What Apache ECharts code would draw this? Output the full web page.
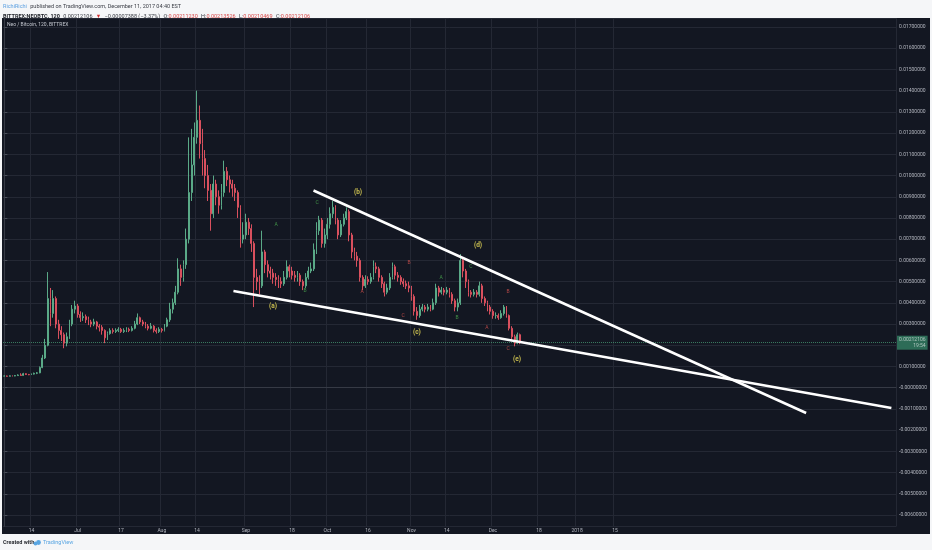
<!DOCTYPE html>
<html><head><meta charset="utf-8">
<script src="https://cdn.jsdelivr.net/npm/echarts@6/dist/echarts.min.js"></script>
<style>
html,body{margin:0;padding:0;background:#f5f6f8;}
#pane{position:absolute;left:2px;top:18px;width:928px;height:516px;background:#131722;}
#c{position:absolute;left:0;top:0;width:932px;height:550px;}
</style></head><body>
<div id="pane"></div><div id="c"></div>
<script>
// ---- data (NEO/BTC, daily approximation of the 120-min chart) ----
const START_DATE = '2017-06-04';
const DAY_COUNT = 329; // visible time range through late April 2018
const closes = [
0.00055,0.00054,0.00056,0.00055,0.00057,0.00060,0.00058,0.00066,0.00062,0.00061,
0.00064,0.00068,0.00070,0.00095,0.00140,0.00200,0.00420,0.00350,0.00420,0.00300,
0.00270,0.00250,0.00210,0.00240,0.00300,0.00370,0.00385,0.00345,0.00330,0.00335,
0.00320,0.00310,0.00300,0.00310,0.00290,0.00285,0.00270,0.00235,0.00255,0.00270,
0.00265,0.00270,0.00275,0.00265,0.00270,0.00275,0.00270,0.00280,0.00300,0.00330,
0.00310,0.00300,0.00290,0.00280,0.00290,0.00270,0.00265,0.00275,0.00270,0.00290,
0.00320,0.00370,0.00400,0.00450,0.00560,0.00520,0.00580,0.00700,0.00920,0.01050,
0.01180,0.01260,0.01150,0.01080,0.01000,0.00930,0.00820,0.00960,0.00900,0.00860,
0.00920,0.01020,0.00980,0.00960,0.00940,0.00920,0.00850,0.00700,0.00720,0.00780,
0.00750,0.00680,0.00520,0.00500,0.00480,0.00640,0.00580,0.00550,0.00540,0.00520,
0.00510,0.00500,0.00490,0.00520,0.00570,0.00550,0.00530,0.00520,0.00530,0.00500,
0.00480,0.00520,0.00550,0.00560,0.00650,0.00740,0.00790,0.00680,0.00720,0.00770,
0.00820,0.00850,0.00790,0.00720,0.00770,0.00800,0.00830,0.00720,0.00640,0.00620,
0.00600,0.00520,0.00480,0.00510,0.00500,0.00520,0.00570,0.00560,0.00520,0.00490,
0.00450,0.00470,0.00520,0.00570,0.00530,0.00520,0.00500,0.00490,0.00480,0.00470,
0.00430,0.00360,0.00340,0.00370,0.00380,0.00370,0.00380,0.00370,0.00400,0.00470,
0.00450,0.00460,0.00450,0.00460,0.00440,0.00410,0.00380,0.00400,0.00600,0.00550,
0.00500,0.00450,0.00440,0.00450,0.00440,0.00480,0.00420,0.00400,0.00380,0.00360,
0.00340,0.00340,0.00330,0.00350,0.00380,0.00340,0.00280,0.00240,0.00210,0.00250,0.00212106
];
const highs = [
0.00058,0.00057,0.00058,0.00058,0.00060,0.00063,0.00068,0.00070,0.00068,0.00065,
0.00067,0.00071,0.00074,0.00100,0.00155,0.00230,0.00545,0.00470,0.00460,0.00430,
0.00320,0.00290,0.00260,0.00260,0.00320,0.00390,0.00410,0.00395,0.00360,0.00355,
0.00345,0.00335,0.00320,0.00325,0.00315,0.00300,0.00295,0.00275,0.00265,0.00280,
0.00280,0.00280,0.00285,0.00282,0.00280,0.00285,0.00283,0.00290,0.00315,0.00350,
0.00335,0.00320,0.00310,0.00300,0.00305,0.00295,0.00280,0.00285,0.00282,0.00300,
0.00330,0.00400,0.00420,0.00480,0.00610,0.00580,0.00600,0.00750,0.01180,0.01220,
0.01250,0.01400,0.01330,0.01220,0.01120,0.01050,0.00960,0.01000,0.00980,0.00930,
0.00960,0.01070,0.01040,0.01000,0.00980,0.00960,0.00930,0.00860,0.00780,0.00820,
0.00800,0.00770,0.00690,0.00560,0.00530,0.00740,0.00650,0.00600,0.00570,0.00560,
0.00540,0.00530,0.00520,0.00550,0.00600,0.00580,0.00570,0.00550,0.00550,0.00540,
0.00510,0.00540,0.00570,0.00590,0.00680,0.00780,0.00810,0.00800,0.00750,0.00800,
0.00850,0.00880,0.00860,0.00800,0.00790,0.00820,0.00850,0.00840,0.00730,0.00660,
0.00640,0.00610,0.00530,0.00530,0.00525,0.00540,0.00600,0.00590,0.00570,0.00530,
0.00500,0.00490,0.00540,0.00590,0.00580,0.00545,0.00530,0.00515,0.00505,0.00500,
0.00480,0.00440,0.00380,0.00390,0.00395,0.00390,0.00395,0.00390,0.00420,0.00490,
0.00480,0.00475,0.00470,0.00475,0.00470,0.00450,0.00420,0.00420,0.00630,0.00610,
0.00560,0.00510,0.00460,0.00465,0.00460,0.00500,0.00490,0.00430,0.00410,0.00390,
0.00370,0.00355,0.00350,0.00365,0.00390,0.00385,0.00345,0.00290,0.00250,0.00260,0.00255
];
const lows = [
0.00053,0.00052,0.00053,0.00053,0.00054,0.00056,0.00056,0.00057,0.00060,0.00059,
0.00060,0.00062,0.00064,0.00068,0.00092,0.00135,0.00195,0.00290,0.00330,0.00280,
0.00230,0.00220,0.00186,0.00195,0.00230,0.00290,0.00350,0.00330,0.00310,0.00315,
0.00305,0.00295,0.00285,0.00290,0.00275,0.00265,0.00250,0.00210,0.00225,0.00250,
0.00255,0.00258,0.00262,0.00258,0.00258,0.00262,0.00262,0.00265,0.00275,0.00295,
0.00300,0.00290,0.00280,0.00270,0.00275,0.00260,0.00255,0.00258,0.00260,0.00265,
0.00285,0.00310,0.00350,0.00390,0.00440,0.00480,0.00500,0.00560,0.00680,0.00880,
0.01000,0.01150,0.01080,0.01000,0.00940,0.00880,0.00740,0.00800,0.00860,0.00820,
0.00840,0.00900,0.00950,0.00920,0.00900,0.00880,0.00800,0.00660,0.00680,0.00700,
0.00720,0.00640,0.00380,0.00460,0.00440,0.00470,0.00540,0.00520,0.00510,0.00490,
0.00480,0.00470,0.00470,0.00480,0.00510,0.00520,0.00510,0.00500,0.00500,0.00480,
0.00460,0.00470,0.00510,0.00540,0.00550,0.00630,0.00720,0.00660,0.00660,0.00700,
0.00750,0.00800,0.00770,0.00700,0.00710,0.00760,0.00790,0.00690,0.00610,0.00600,
0.00570,0.00500,0.00460,0.00470,0.00485,0.00490,0.00510,0.00540,0.00500,0.00470,
0.00430,0.00440,0.00460,0.00510,0.00510,0.00500,0.00485,0.00475,0.00465,0.00450,
0.00410,0.00340,0.00320,0.00330,0.00360,0.00355,0.00360,0.00360,0.00365,0.00390,
0.00430,0.00440,0.00435,0.00440,0.00425,0.00395,0.00360,0.00360,0.00390,0.00520,
0.00470,0.00430,0.00425,0.00430,0.00425,0.00430,0.00400,0.00385,0.00360,0.00345,
0.00325,0.00325,0.00320,0.00325,0.00340,0.00330,0.00270,0.00225,0.00195,0.00205,0.00205
];
const FIRST_OPEN = 0.00055;
const LAST_PRICE = 0.00212106;

// x-axis tick labels
const tickDates = ['2017-06-14','2017-07-01','2017-07-17','2017-08-01','2017-08-14','2017-09-01','2017-09-18','2017-10-01','2017-10-16','2017-11-01','2017-11-14','2017-12-01','2017-12-18','2018-01-01','2018-01-15'];
const tickLabels = ['14','Jul','17','Aug','14','Sep','18','Oct','16','Nov','14','Dec','18','2018','15'];

// trend lines: [dayIndex, price]
const lowerLine = [[84.4, 0.004558], [326.8, -0.000957]];
const upperLine = [[113.9, 0.009294], [295.4, -0.001192]];

// wave annotations
const waveText = ['(a)','(b)','(c)','(d)','(e)','A','B','C','A','B','C','A','B','C','A','B','C'];
const waveDay  = [99.0,130.3,152.0,174.5,188.9,100.1,110.8,115.2,131.8,149.1,146.9,160.9,166.8,171.9,177.8,185.6,185.6];
const wavePrice= [0.00385,0.00922,0.00263,0.00673,0.00135,0.00767,0.00456,0.00871,0.00451,0.00588,0.00338,0.00517,0.00329,0.00569,0.00281,0.00451,0.00182];
const waveKind = ['major','major','major','major','major','g','g','g','r','r','r','g','g','g','r','r','r'];

// ---- build ----
const categories = [];
(function(){
  const t0 = Date.parse(START_DATE + 'T00:00:00Z');
  for (let i = 0; i < DAY_COUNT; i++) {
    categories.push(new Date(t0 + i * 86400000).toISOString().slice(0, 10));
  }
})();
const tickMap = {};
tickDates.forEach((d, i) => { tickMap[d] = tickLabels[i]; });
const isTick = (idx, val) => Object.prototype.hasOwnProperty.call(tickMap, val);

const ohlc = closes.map((c, i) => [i === 0 ? FIRST_OPEN : closes[i - 1], c, lows[i], highs[i]]);

const kindColor = { major: '#f3e35a', g: '#4caf50', r: '#d9534f' };
const waveData = waveText.map((t, i) => ({
  value: [waveDay[i], wavePrice[i]],
  name: t,
  label: {
    color: kindColor[waveKind[i]],
    fontSize: waveKind[i] === 'major' ? 6.5 : 5,
    fontWeight: waveKind[i] === 'major' ? 'bold' : 'normal'
  }
}));

const Y_MAX = 0.017425, Y_MIN = -0.006542;
const FONT = 'Roboto';
const axisTxt = '#b2b5be';
const gridCol = '#242834';

const chart = echarts.init(document.getElementById('c'), null, { renderer: 'canvas' });
chart.setOption({
  animation: false,
  backgroundColor: 'transparent',
  textStyle: { fontFamily: FONT },
  grid: { left: 3, right: 36, top: 18, bottom: 23.5 },
  xAxis: [{
    type: 'category', data: categories, boundaryGap: true,
    axisLine: { show: true, lineStyle: { color: '#363a45' } },
    axisTick: { show: false },
    axisLabel: { interval: isTick, formatter: v => tickMap[v] || '', color: axisTxt, fontSize: 5, margin: 2, fontFamily: FONT },
    splitLine: { show: true, interval: isTick, lineStyle: { color: gridCol, width: 1 } }
  }, {
    type: 'value', min: -0.5, max: DAY_COUNT - 0.5, show: false
  }],
  yAxis: [{
    type: 'value', position: 'right', min: Y_MIN, max: Y_MAX,
    splitNumber: 24, minInterval: 0.001, maxInterval: 0.001, scale: true,
    axisLine: { show: true, lineStyle: { color: '#363a45' } },
    axisTick: { show: true, length: 3, lineStyle: { color: '#4a4e59' } },
    axisLabel: {
      color: axisTxt, fontSize: 5, margin: 3, fontFamily: FONT,
      showMinLabel: false, showMaxLabel: false,
      formatter: v => {
        const k = v * 1000;
        if (Math.abs(k - Math.round(k)) > 1e-6) return '';
        if (Math.round(k) === 2) return '';
        if (Math.round(k) === 0) return '-0.00000000';
        return (Math.round(k) / 1000).toFixed(8);
      }
    },
    splitLine: { show: true, lineStyle: { color: gridCol, width: 1 } }
  }],
  graphic: [
    { type: 'text', left: 3, top: 1, z: 100, style: {
      text: '{u|RichiRichi} {t|published on TradingView.com, December 11, 2017 04:40 EST}',
      rich: { u: { fill: '#5a9fe0', fontSize: 5.5, fontFamily: FONT }, t: { fill: '#3a3d45', fontSize: 5.5, fontFamily: FONT } }
    }},
    { type: 'text', left: 3, top: 10.5, z: 100, style: {
      text: '{b|BITTREX:NEOBTC, 120} {t|0.00212106} {r|▼} {t|−0.00007388 (−3.37%)} {t|O:}{v|0.00211230} {t|H:}{v|0.00213526} {t|L:}{v|0.00210469} {t|C:}{v|0.00212106}',
      rich: {
        b: { fill: '#22252c', fontSize: 5.5, fontWeight: 'bold', fontFamily: FONT },
        t: { fill: '#3a3d45', fontSize: 5.5, fontFamily: FONT },
        r: { fill: '#d32f2f', fontSize: 5.5, fontFamily: FONT },
        v: { fill: '#d84a4a', fontSize: 5.5, fontFamily: FONT }
      }
    }},
    { type: 'text', left: 7, top: 22, z: 100, style: { text: 'Neo / Bitcoin, 120, BITTREX', fill: '#c3c6ce', fontSize: 5, fontFamily: FONT } },
    { type: 'text', left: 3, top: 540, z: 100, style: { text: 'Created with', fill: '#2a2d33', fontSize: 5.5, fontWeight: 'bold', fontFamily: FONT } },
    { type: 'circle', z: 100, shape: { cx: 35.5, cy: 543.5, r: 2 }, style: { fill: '#5aa6e2' } },
    { type: 'circle', z: 100, shape: { cx: 38.5, cy: 542.5, r: 2.4 }, style: { fill: '#5aa6e2' } },
    { type: 'text', left: 43, top: 540, z: 100, style: { text: 'TradingView', fill: '#5aa6e2', fontSize: 5.5, fontFamily: FONT } }
  ],
  series: [{
    type: 'candlestick', xAxisIndex: 0, yAxisIndex: 0, data: ohlc, barWidth: '55%',
    itemStyle: { color: '#5aa987', color0: '#d9505e', borderColor: '#5aa987', borderColor0: '#d9505e', borderWidth: 1 }
  }, {
    type: 'line', xAxisIndex: 1, yAxisIndex: 0, data: lowerLine, symbol: 'none', z: 5,
    lineStyle: { color: '#ffffff', width: 2.5 },
    markLine: {
      silent: true, symbol: ['none', 'none'], z: 1,
      data: [[{ coord: [-0.5, LAST_PRICE] }, { coord: [DAY_COUNT - 0.5, LAST_PRICE] }]],
      lineStyle: { color: '#53b987', type: 'dotted', width: 1, opacity: 0.6 },
      label: {
        show: true, position: 'end', distance: 1, formatter: '{a|0.00212106}\n{b|19:54}',
        backgroundColor: '#3fa57c', padding: [1, 2],
        rich: {
          a: { color: '#ffffff', fontSize: 5, fontFamily: FONT, lineHeight: 6 },
          b: { color: '#ffffff', fontSize: 5, fontFamily: FONT, lineHeight: 6, align: 'right' }
        }
      }
    }
  }, {
    type: 'line', xAxisIndex: 1, yAxisIndex: 0, data: upperLine, symbol: 'none', z: 5,
    lineStyle: { color: '#ffffff', width: 2.5 }
  }, {
    type: 'scatter', xAxisIndex: 1, yAxisIndex: 0, data: waveData, symbolSize: 1, z: 6,
    itemStyle: { color: 'transparent' },
    label: { show: true, position: 'inside', formatter: p => p.name, fontFamily: FONT }
  }]
});
</script></body></html>
